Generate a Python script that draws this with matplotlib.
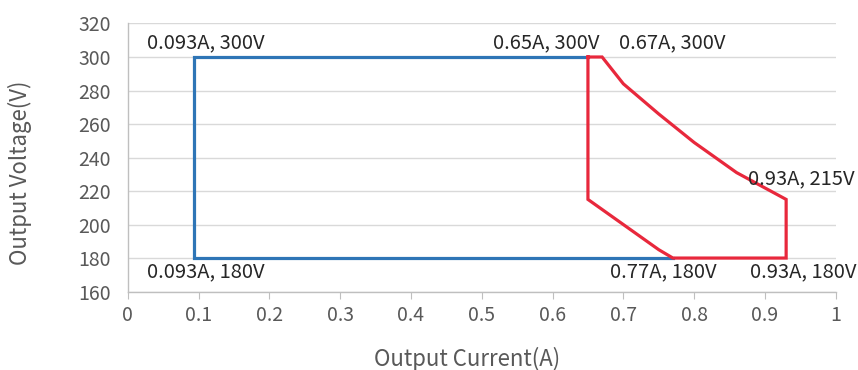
import matplotlib
matplotlib.use("Agg")
import matplotlib.pyplot as plt

plt.rcParams['font.family'] = ['Noto Sans CJK SC', 'DejaVu Sans']

# 蓝色区域 (电流 A, 电压 V)
blue_i = [0.77, 0.093, 0.093, 0.65]
blue_v = [180, 180, 300, 300]

# 红色区域
red_i = [0.65, 0.67, 0.70, 0.75, 0.80, 0.86, 0.93, 0.93, 0.77, 0.75, 0.65, 0.65]
red_v = [300, 300, 284, 266, 249, 231, 215, 180, 180, 185, 215, 300]

# 标注: (电流, 电压, 文本, x偏移px, y偏移px)
labels = [
    (0.093, 300, '0.093A, 300V', 12, 14),
    (0.65, 300, '0.65A, 300V', -42, 14),
    (0.67, 300, '0.67A, 300V', 70, 14),
    (0.93, 215, '0.93A, 215V', 15, 21),
    (0.093, 180, '0.093A, 180V', 12, -14),
    (0.77, 180, '0.77A, 180V', -10, -14),
    (0.93, 180, '0.93A, 180V', 17, -14),
]

fig = plt.figure(figsize=(8.58, 3.70), dpi=100)
ax = fig.add_axes([0.149, 0.212, 0.825, 0.7245])

ax.plot(blue_i, blue_v, color='#2E75B6', lw=2.3, solid_joinstyle='miter', zorder=3)
ax.plot(red_i, red_v, color='#E8283C', lw=2.3, solid_joinstyle='miter', zorder=4)

for x, y, txt, dx, dy in labels:
    ax.annotate(txt, xy=(x, y), xytext=(dx, dy), textcoords='offset pixels',
                ha='center', va='center', fontsize=14.5, color='#262626', zorder=5)

ax.set_xlim(0, 1)
ax.set_ylim(160, 320)
ax.set_xticks([i / 10 for i in range(11)])
ax.set_xticklabels(['0', '0.1', '0.2', '0.3', '0.4', '0.5', '0.6', '0.7', '0.8', '0.9', '1'])
ax.set_yticks(range(160, 321, 20))
ax.grid(axis='y', color='#D9D9D9', lw=1)
ax.set_axisbelow(True)

for s in ['top', 'right']:
    ax.spines[s].set_visible(False)
for s in ['left', 'bottom']:
    ax.spines[s].set_color('#BFBFBF')
    ax.spines[s].set_linewidth(1)

ax.tick_params(axis='x', colors='#BFBFBF', labelcolor='#595959', labelsize=14,
               length=5, direction='out', pad=5)
ax.tick_params(axis='y', length=0, labelcolor='#595959', labelsize=14, pad=12)

ax.set_xlabel('Output Current(A)', fontsize=16, color='#595959')
ax.set_ylabel('Output Voltage(V)', fontsize=16, color='#595959')
ax.xaxis.set_label_coords(0.4795, -0.205)
ax.yaxis.set_label_coords(-0.136, 0.444)

fig.savefig('out.png', dpi=100)
